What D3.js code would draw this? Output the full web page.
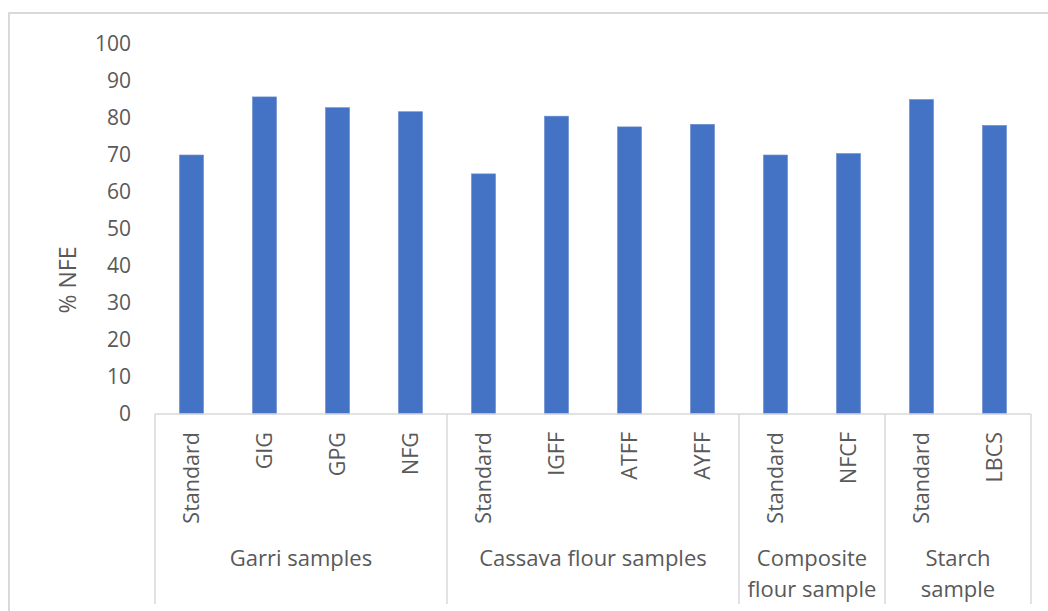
<!DOCTYPE html>
<html>
<head>
<meta charset="utf-8">
<script src="https://cdn.jsdelivr.net/npm/d3@7/dist/d3.min.js"></script>
<style>
  html, body { margin: 0; padding: 0; background: #fff; }
  svg text { font-family: "Open Sans", "Noto Sans", sans-serif; fill: #595959; }
</style>
</head>
<body>
<div id="chart"></div>
<script>
// categories, values and groups
var samples = ["Standard", "GIG", "GPG", "NFG",
               "Standard", "IGFF", "ATFF", "AYFF",
               "Standard", "NFCF",
               "Standard", "LBCS"];
var nfe = [70.0, 85.7, 82.8, 81.7,
           64.9, 80.5, 77.6, 78.3,
           70.0, 70.4,
           85.0, 78.0];
var groupNames = [["Garri samples"], ["Cassava flour samples"],
                  ["Composite", "flour sample"], ["Starch", "sample"]];
var groupSizes = [4, 4, 2, 2];
var yTicks = [0, 10, 20, 30, 40, 50, 60, 70, 80, 90, 100];

var width = 1048, height = 611;
var plotLeft = 155, plotRight = 1031, plotTop = 44, plotBottom = 414;
var gridColor = "#d9d9d9";

var svg = d3.select("#chart").append("svg")
    .attr("width", width)
    .attr("height", height);

// outer chart frame (only top and left edges are in view)
svg.append("path")
    .attr("d", "M9," + height + "V13H" + width)
    .attr("fill", "none")
    .attr("stroke", gridColor)
    .attr("stroke-width", 2);

var keys = samples.map(function (d, i) { return i; });

var x = d3.scaleBand()
    .domain(keys)
    .range([plotLeft, plotRight])
    .paddingInner(0.67)
    .paddingOuter(0.335);

var y = d3.scaleLinear()
    .domain([0, 100])
    .range([plotBottom, plotTop]);

// y axis: labels only
var yAxis = svg.append("g")
    .attr("transform", "translate(" + (plotLeft - 20) + ",0)")
    .call(d3.axisLeft(y).tickValues(yTicks).tickSize(0).tickPadding(4));
yAxis.select(".domain").remove();
yAxis.selectAll("text")
    .style("font-size", "21px")
    .style("font-family", "'Open Sans', sans-serif")
    .attr("fill", "#595959");

// y axis title
svg.append("text")
    .attr("transform", "translate(76,280) rotate(-90)")
    .attr("text-anchor", "middle")
    .style("font-size", "23px")
    .text("% NFE");

// bars
svg.append("g").selectAll("rect")
    .data(nfe)
    .enter().append("rect")
    .attr("x", function (d, i) { return x(i); })
    .attr("y", function (d) { return y(d); })
    .attr("width", x.bandwidth())
    .attr("height", function (d) { return y(0) - y(d); })
    .attr("fill", "#4472c4")
    .attr("stroke", "#6d8fd0")
    .attr("stroke-width", 0.6);

// category axis line
svg.append("line")
    .attr("x1", plotLeft).attr("x2", plotRight)
    .attr("y1", plotBottom).attr("y2", plotBottom)
    .attr("stroke", gridColor)
    .attr("stroke-width", 1.5);

// group separators
var step = x.step();
var edges = [0];
groupSizes.forEach(function (n, i) { edges.push(edges[i] + n); });

svg.append("g").selectAll("line")
    .data(edges)
    .enter().append("line")
    .attr("x1", function (d) { return plotLeft + d * step; })
    .attr("x2", function (d) { return plotLeft + d * step; })
    .attr("y1", plotBottom)
    .attr("y2", 604)
    .attr("stroke", gridColor)
    .attr("stroke-width", 1.5);

// rotated sample labels
svg.append("g").selectAll("text")
    .data(samples)
    .enter().append("text")
    .attr("transform", function (d, i) {
        return "translate(" + (x(i) + x.bandwidth() / 2 + 7) + ",432) rotate(-90)";
    })
    .attr("text-anchor", "end")
    .style("font-size", "21.5px")
    .text(function (d) { return d; });

// group labels
var groups = svg.append("g").selectAll("text")
    .data(groupNames)
    .enter().append("text")
    .attr("text-anchor", "middle")
    .attr("x", function (d, i) { return plotLeft + (edges[i] + edges[i + 1]) / 2 * step; })
    .attr("y", 566)
    .style("font-size", "22px");

groups.selectAll("tspan")
    .data(function (d) { return d; })
    .enter().append("tspan")
    .attr("x", function () { return d3.select(this.parentNode).attr("x"); })
    .attr("dy", function (d, i) { return i == 0 ? 0 : 31; })
    .text(function (d) { return d; });
</script>
</body>
</html>
